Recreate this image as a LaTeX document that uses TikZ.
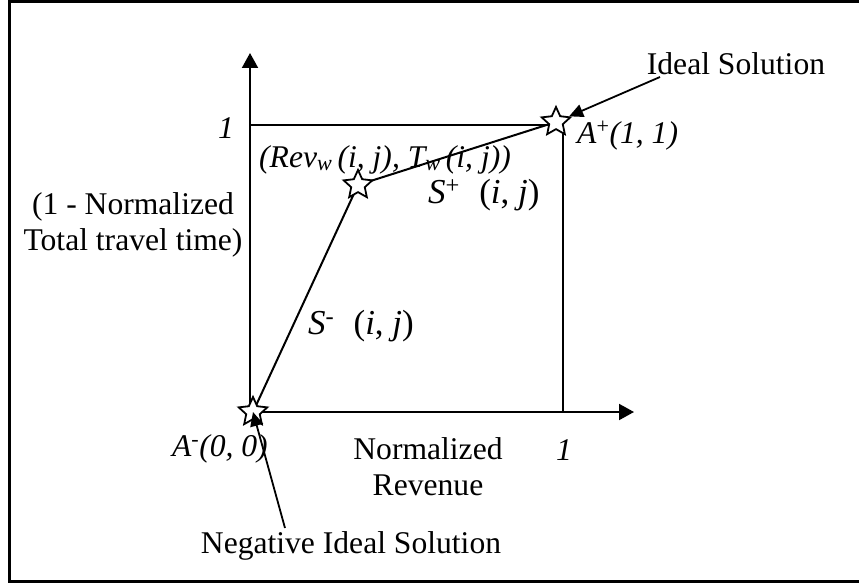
\documentclass[tikz,border=0pt]{standalone}
\usepackage{fontspec}
\setmainfont{Liberation Serif}
\usetikzlibrary{arrows.meta,shapes.geometric}
\begin{document}
\begin{tikzpicture}[x=1pt,y=-1pt,
  ln/.style={line width=2pt},
  axis/.style={ln,-{Triangle[length=15pt,width=16pt]}},
  ptr/.style={line width=1.8pt,-{Triangle[length=14pt,width=13pt]}},
  pstar/.style={star,star points=5,star point ratio=2.1,draw,line width=1.8pt,fill=white,minimum size=30pt,inner sep=0pt},
  lbl/.style={inner sep=0pt,font=\fontsize{31.6}{36}\selectfont},
  big/.style={inner sep=0pt,font=\fontsize{35}{40}\selectfont}]
\useasboundingbox (0,0) rectangle (859,583);
\clip (0,0) rectangle (859,583);
% frame
\draw[line width=3pt] (9.7,1.5) rectangle (900,581.5);
% axes and unit square
\coordinate (O) at (250,412);
\coordinate (Ytop) at (250,53);
\coordinate (Xend) at (634,412);
\coordinate (Y1) at (250,125);
\coordinate (C) at (563,125);
\coordinate (X1) at (563,412);
\draw[axis] (O) -- (Ytop);
\draw[axis] (O) -- (Xend);
\draw[ln] (Y1) -- (C) -- (X1);
% solution points
\coordinate (Pm) at (253,412);
\coordinate (Pw) at (358,185);
\coordinate (Pp) at (556,122);
\draw[ln] (Pm) -- (Pw) -- (Pp);
\node[pstar] (Aminus) at (Pm) {};
\node[pstar] (W) at (Pw) {};
\node[pstar] (Aplus) at (Pp) {};
% labels
\node[lbl,anchor=base] (ideal) at (736,75) {Ideal Solution};
\node[lbl,anchor=base west] (aplab) at (577,143) {\textit{A}\textsuperscript{+}\textit{(1, 1)}};
\node[lbl,anchor=base] (yone) at (226,139) {\textit{1}};
\node[lbl,anchor=base west] (revlab) at (259,167) {\textit{(Rev\textsubscript{w}\,(i, j), T\textsubscript{w}\,(i, j))}};
\node[big,anchor=base west] (splus) at (428,203) {\textit{S}\textsuperscript{+}\hspace{0.55em}(\textit{i}, \textit{j})};
\node[lbl,anchor=base,align=center] (ylab) at (133,250) {(1 - Normalized\\Total travel time)};
\node[big,anchor=base west] (sminus) at (308,334) {\textit{S}\textsuperscript{-}\hspace{0.55em}(\textit{i}, \textit{j})};
\node[lbl,anchor=base east] (amlab) at (268,456) {\textit{A}\textsuperscript{-}\textit{(0, 0)}};
\node[lbl,anchor=base,align=center] (xlab) at (428,495) {Normalized\\Revenue};
\node[lbl,anchor=base] (xone) at (564,460) {\textit{1}};
\node[lbl,anchor=base] (neg) at (351,553) {Negative Ideal Solution};
% pointers
\coordinate (idealtail) at (660,77);
\coordinate (negtail) at (285,528);
\draw[ptr] (idealtail) -- (Aplus);
\draw[ptr] (negtail) -- (Aminus.center);
\end{tikzpicture}
\end{document}
